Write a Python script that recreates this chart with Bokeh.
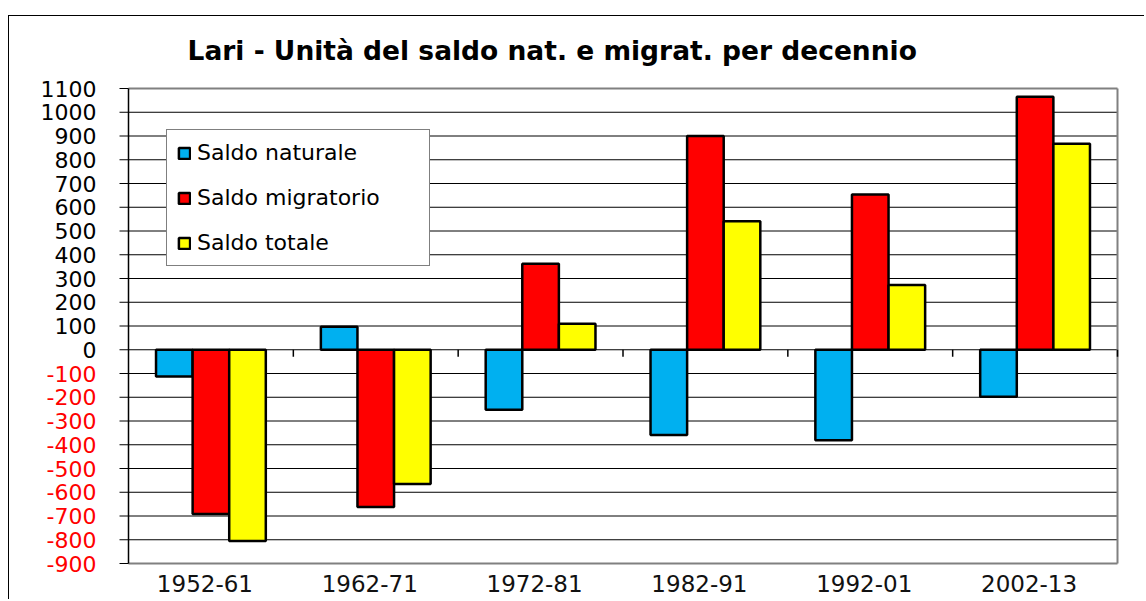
from bokeh.plotting import figure
from bokeh.models import (Legend, LegendItem, LabelSet, ColumnDataSource, Range1d)
from bokeh.core.properties import value
from bokeh.embed import file_html
from bokeh.resources import INLINE

# ---- data ----
categories = ["1952-61", "1962-71", "1972-81", "1982-91", "1992-01", "2002-13"]
saldo_naturale = [-113, 97, -253, -359, -381, -198]
saldo_migratorio = [-692, -662, 362, 900, 654, 1065]
saldo_totale = [-805, -565, 109, 541, 273, 867]
series_names = ["Saldo naturale", "Saldo migratorio", "Saldo totale"]
series_colors = ["#00B0F0", "#FF0000", "#FFFF00"]
y_ticks = list(range(-900, 1200, 100))
title_text = "Lari - Unità del saldo nat. e migrat. per decennio"

FONT = "DejaVu Sans"
n = len(categories)
y_lo, y_hi = y_ticks[0], y_ticks[-1]

# ---- style constants (pixel geometry) ----
X_PX = 164.83            # pixels per category
Y_PX = 0.2375            # pixels per unit
pad_x_left = 99 / X_PX   # room for the value labels inside the frame
pad_x_right = 2 / X_PX
pad_y_top = 18 / Y_PX
pad_y_bottom = 37 / Y_PX  # room for the category labels inside the frame
tick_len_x = 9 / X_PX
cat_tick_len = 7 / Y_PX

p = figure(width=1136, height=584,
           x_range=Range1d(-pad_x_left, n + pad_x_right),
           y_range=Range1d(y_lo - pad_y_bottom, y_hi + pad_y_top),
           output_backend="svg", toolbar_location=None,
           min_border_left=20, min_border_right=26,
           min_border_top=54, min_border_bottom=0)
p.styles = {"margin-top": "15px", "margin-left": "8px",
            "border-top": "1px solid black", "border-left": "1px solid black"}

# title
p.title.text = title_text
p.title.text_font = FONT
p.title.text_font_size = "26.5px"
p.title.text_font_style = "bold"
p.title.text_color = "black"
p.title.align = "left"
p.title.offset = 158
p.title.standoff = 9

p.outline_line_color = None
p.background_fill_color = "white"
p.border_fill_color = "white"
p.xgrid.grid_line_color = None
p.ygrid.grid_line_color = None
p.xaxis.visible = False
p.yaxis.visible = False

# horizontal gridlines
inner = [t for t in y_ticks if y_lo < t < y_hi]
p.segment(x0=[0] * len(inner), x1=[n] * len(inner), y0=inner, y1=inner,
          line_color="black", line_width=1)
# plot-area border (grey) top, bottom, right
p.segment(x0=[0, 0, n], x1=[n, n, n], y0=[y_hi, y_lo, y_lo], y1=[y_hi, y_lo, y_hi],
          line_color="#808080", line_width=2)

# bars
bar_w = 0.222
offsets = [-bar_w, 0.0, bar_w]
all_values = [saldo_naturale, saldo_migratorio, saldo_totale]
renderers = []
for vals, col, off in zip(all_values, series_colors, offsets):
    src = ColumnDataSource(dict(x=[i + 0.5 + off for i in range(n)], top=vals))
    r = p.vbar(x="x", top="top", bottom=0, width=bar_w, source=src,
               fill_color=col, line_color="black", line_width=2.5)
    renderers.append(r)

# category tick marks on the zero line
bounds = list(range(1, n + 1))
p.segment(x0=bounds, x1=bounds, y0=[0] * len(bounds), y1=[-cat_tick_len] * len(bounds),
          line_color="black", line_width=1.5)

# value axis line and ticks
p.segment(x0=[0], x1=[0], y0=[y_lo], y1=[y_hi], line_color="black", line_width=1.5)
p.segment(x0=[-tick_len_x] * len(y_ticks), x1=[0] * len(y_ticks), y0=y_ticks, y1=y_ticks,
          line_color="black", line_width=1)

# value labels (negative values in red)
lab_src = ColumnDataSource(dict(
    x=[0] * len(y_ticks), y=y_ticks, text=[str(t) for t in y_ticks],
    color=["#FF0000" if t < 0 else "black" for t in y_ticks]))
p.add_layout(LabelSet(x="x", y="y", text="text", source=lab_src, text_color="color",
                      x_offset=-32, text_align="right", text_baseline="middle",
                      text_font=value(FONT), text_font_size=value("22px")))

# category labels
cat_src = ColumnDataSource(dict(x=[i + 0.5 for i in range(n)], y=[y_lo] * n,
                                text=categories))
p.add_layout(LabelSet(x="x", y="y", text="text", source=cat_src, text_color="#111111",
                      x_offset=-6, y_offset=-20, text_align="center",
                      text_baseline="middle",
                      text_font=value(FONT), text_font_size=value("23px")))

legend = Legend(items=[LegendItem(label=nm, renderers=[r])
                       for nm, r in zip(series_names, renderers)],
                location=(137, 334), padding=10, spacing=20, margin=0,
                glyph_width=14, glyph_height=14, label_standoff=6,
                label_width=222, label_text_color="black",
                label_text_font=FONT, label_text_font_size="22px",
                border_line_color="black", border_line_width=1.5,
                background_fill_color="white", background_fill_alpha=1)
p.add_layout(legend)

open("out.html", "w").write(file_html(p, INLINE))
